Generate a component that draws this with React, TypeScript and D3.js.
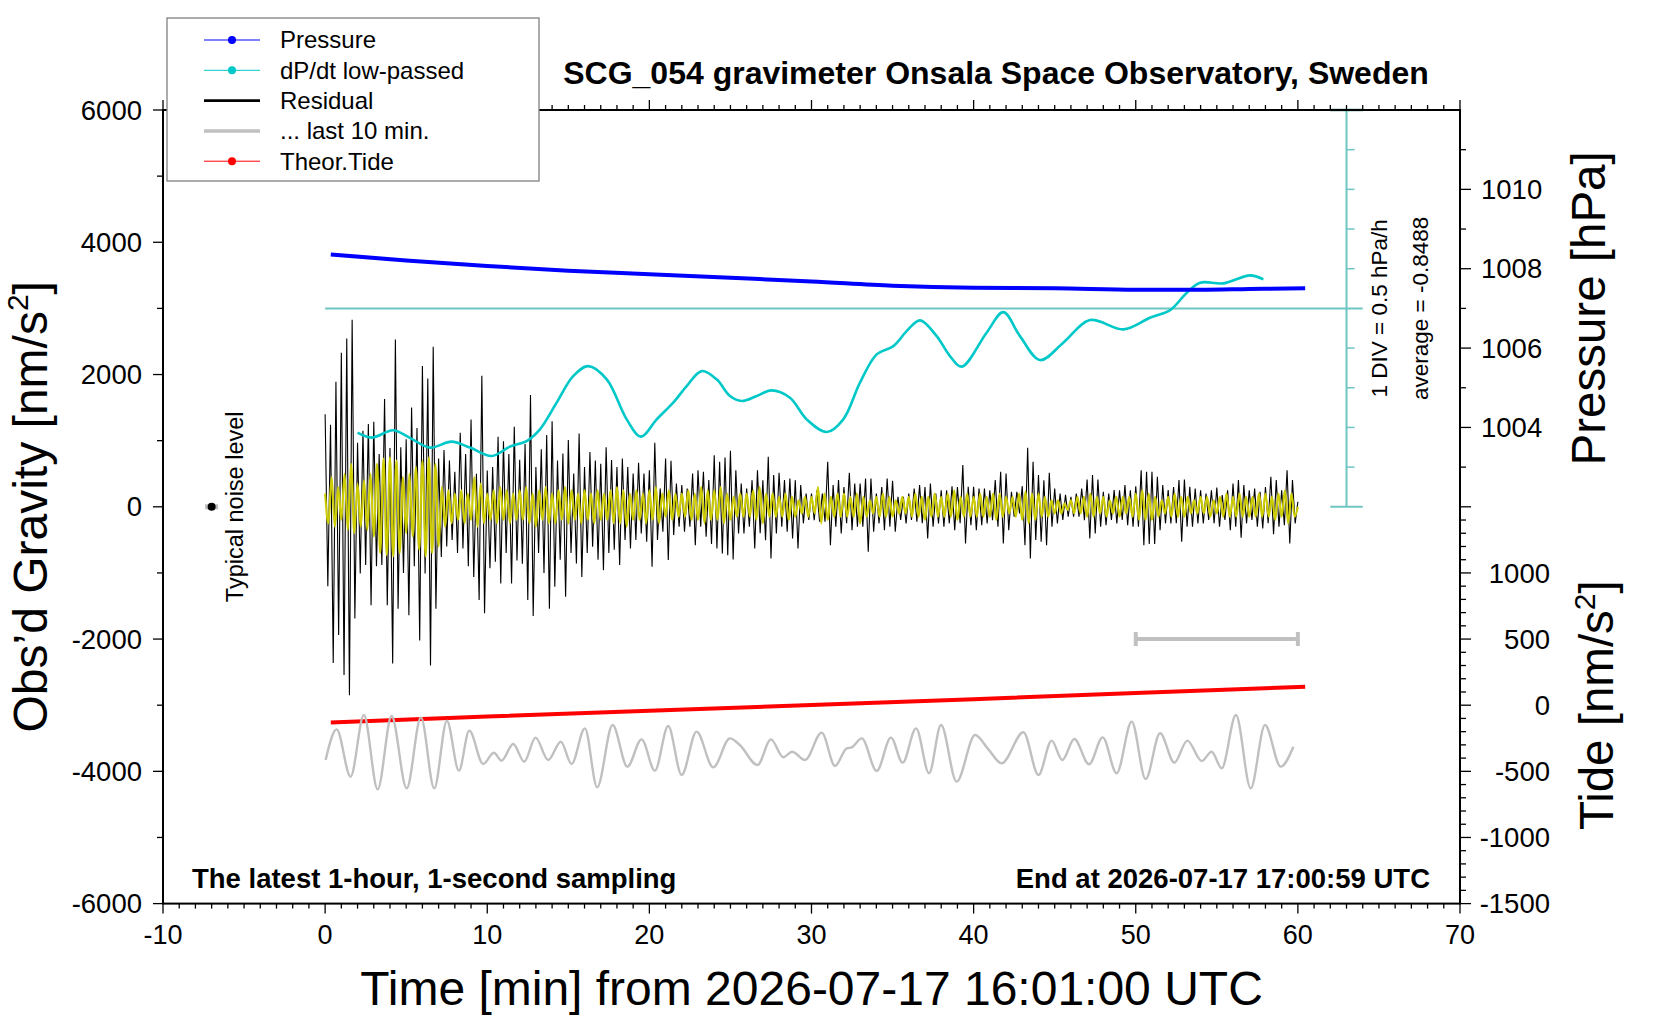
import * as d3 from "d3";

const FONT = "'Liberation Sans', Arial, Helvetica, sans-serif";

// residual gravity [nm/s^2], one value every 10 s (6 per minute) from t = 0 min
const RES_STEP = 1 / 6;
const residual: number[] = [
    1400, -1200, 1240, -2360, 1890, -1940,
    2330, -2545, 2545, -2850, 2830, -1690,
    970, -1010, 1150, -880, 1250, -1490,
    1285, -900, 800, -880, 1630, -1490,
    890, -2370, 2530, -1540, 900, -1000,
    1020, -1640, 1500, -900, 1190, -2020,
    2130, -1010, 1940, -2400, 2420, -1540,
    730, -760, 860, -600, 700, -500,
    530, -700, 1120, -630, 800, -900,
    1320, -1060, 500, -1410, 1980, -1610,
    550, -930, 600, -830, 1060, -1160,
    990, -700, 800, -1160, 1210, -810,
    710, -860, 950, -1410, 1690, -1650,
    600, -700, 870, -1000, 1085, -1540,
    1295, -1210, 700, -800, 806, -1360,
    1010, -700, 504, -857, 1110, -1060,
    600, -700, 830, -605, 700, -800,
    650, -960, 900, -700, 706, -650,
    600, -880, 730, -500, 600, -630,
    504, -500, 665, -403, 504, -529,
    554, -907, 968, -500, 277, -378,
    731, -806, 696, -428, 353, -300,
    328, -378, 277, -300, 504, -580,
    554, -300, 529, -454, 403, -564,
    781, -630, 680, -706, 746, -731,
    847, -796, 554, -403, 353, -403,
    277, -300, 403, -630, 554, -400,
    400, -504, 756, -781, 479, -403,
    514, -300, 403, -378, 428, -479,
    403, -630, 328, -250, 202, -200,
    200, -202, 250, -227, 202, -227,
    680, -580, 328, -300, 403, -403,
    300, -250, 514, -353, 353, -302,
    353, -300, 428, -680, 428, -378,
    202, -250, 300, -353, 428, -300,
    393, -378, 151, -200, 151, -252,
    200, -200, 277, -227, 328, -250,
    300, -479, 353, -302, 202, -250,
    250, -302, 250, -250, 312, -353,
    300, -250, 630, -554, 302, -277,
    302, -353, 277, -277, 277, -250,
    250, -202, 403, -300, 529, -554,
    504, -353, 227, -150, 227, -101,
    312, -580, 892, -781, 680, -500,
    479, -529, 400, -580, 514, -300,
    277, -252, 200, -200, 180, -150,
    151, -151, 200, -150, 277, -202,
    413, -479, 479, -403, 413, -300,
    227, -277, 200, -200, 252, -252,
    250, -200, 328, -277, 250, -302,
    312, -300, 554, -580, 529, -564,
    529, -564, 454, -353, 328, -250,
    252, -252, 300, -250, 403, -529,
    413, -300, 302, -302, 277, -250,
    250, -252, 202, -200, 250, -250,
    292, -302, 176, -200, 250, -353,
    353, -300, 403, -469, 328, -250,
    250, -200, 277, -302, 227, -328,
    300, -250, 454, -413, 403, -300,
    250, -277, 554, -554, 403, -252,
    76,
];

// yellow filtered residual [nm/s^2], one value every 0.2 min
const YEL_STEP = 0.2;
const filtered: number[] = [
    200, -250, 450, -300, 300, -200, 500, -350, 650, -400,
    350, -300, 400, -350, 500, -450, 650, -700, 730, -730,
    750, -750, 700, -700, 450, -400, 500, -450, 600, -650,
    700, -750, 750, -700, 650, -600, 300, -300, 250, -250,
    200, -200, 250, -250, 200, -200, 450, -300, 350, -250,
    200, -200, 250, -250, 300, -200, 250, -250, 200, -200,
    250, -200, 300, -250, 200, -300, 250, -200, 300, -250,
    200, -250, 250, -200, 300, -250, 250, -200, 200, -250,
    250, -200, 200, -250, 250, -200, 200, -200, 250, -250,
    300, -250, 250, -300, 200, -200, 250, -200, 200, -250,
    250, -200, 300, -250, 200, -150, 250, -200, 200, -150,
    200, -150, 250, -200, 200, -200, 300, -250, 250, -200,
    250, -200, 300, -250, 200, -200, 150, -150, 200, -150,
    200, -150, 250, -200, 300, -250, 200, -150, 200, -150,
    150, -150, 200, -200, 150, -150, 100, -100, 150, -150,
    150, -100, 300, -250, 200, -200, 150, -150, 200, -150,
    200, -150, 150, -150, 200, -250, 150, -150, 100, -100,
    150, -150, 200, -150, 150, -150, 100, -100, 150, -100,
    150, -150, 200, -150, 150, -200, 150, -150, 200, -150,
    150, -150, 200, -150, 250, -200, 150, -150, 200, -150,
    150, -150, 200, -150, 150, -150, 200, -200, 200, -150,
    150, -100, 150, -150, 200, -200, 230, -250, 200, -200,
    200, -150, 150, -150, 100, -100, 100, -100, 50, -50,
    100, -100, 150, -100, 150, -150, 200, -150, 150, -100,
    150, -150, 100, -100, 150, -150, 150, -100, 150, -150,
    200, -200, 250, -200, 200, -200, 150, -150, 100, -100,
    150, -150, 200, -150, 150, -150, 150, -100, 100, -100,
    150, -100, 150, -150, 100, -100, 150, -150, 200, -150,
    150, -150, 200, -150, 150, -150, 150, -150, 200, -150,
    200, -150, 150, -200, 200, -150, 250, -250, 200, -150,
    0,
];

// [minute, hPa]
const pressure: [number, number][] = [
    [0.35, 1008.36], [5, 1008.21], [10, 1008.07], [15, 1007.95], [20, 1007.86],
    [25, 1007.77], [30, 1007.68], [35, 1007.57], [40, 1007.52], [45, 1007.51],
    [50, 1007.47], [54, 1007.47], [57, 1007.49], [60.45, 1007.51],
];

// [minute, hPa/h] low-passed dP/dt
const dPdt: [number, number][] = [
    [2.0, -1.565], [2.87, -1.628], [4.2, -1.536], [5.2, -1.628], [6.47, -1.754],
    [7.8, -1.679], [8.93, -1.754], [10.27, -1.86], [11.4, -1.742], [12.43, -1.671],
    [13.25, -1.524], [14.28, -1.188], [15.3, -0.853], [16.23, -0.727], [17.37, -0.894],
    [18.6, -1.398], [19.48, -1.616], [20.45, -1.398], [21.47, -1.188], [22.3, -0.979],
    [23.23, -0.79], [24.15, -0.894], [24.97, -1.104], [25.69, -1.167], [26.62, -1.104],
    [27.54, -1.033], [28.67, -1.125], [29.7, -1.398], [30.94, -1.558], [31.96, -1.398],
    [32.99, -0.936], [34.02, -0.579], [35.05, -0.475], [35.87, -0.286], [36.69, -0.151],
    [37.72, -0.349], [38.54, -0.601], [39.26, -0.734], [40.8, -0.306], [41.83, -0.047],
    [42.86, -0.349], [44.1, -0.651], [45.53, -0.432], [47.18, -0.147], [49.24, -0.264],
    [50.88, -0.117], [52.12, -0.021], [53.15, 0.198], [53.97, 0.324], [55.41, 0.315],
    [57.05, 0.416], [57.87, 0.365],
];

// [minute, nm/s^2] theoretical tide
const tide: [number, number][] = [
    [0.35, -130], [10, -86], [20, -42], [30, 2], [40, 45], [50, 92], [60.45, 140],
];

// [minute, nm/s^2] last 10 min stretched over the hour (offset trace)
const last10: [number, number][] = [
    [0.03, -3829], [0.71, -3365], [1.57, -4081], [2.39, -3148], [3.24, -4272],
    [4.1, -3163], [5.03, -4257], [5.91, -3184], [6.73, -4257], [7.51, -3234],
    [8.25, -3990], [8.89, -3385], [9.75, -3889], [10.41, -3718], [10.88, -3839],
    [11.6, -3587], [12.28, -3854], [12.98, -3491], [13.76, -3829], [14.54, -3552],
    [15.2, -3889], [16.02, -3350], [16.78, -4242], [17.73, -3300], [18.64, -3929],
    [19.52, -3516], [20.34, -3990], [21.16, -3315], [21.99, -4055], [22.91, -3400],
    [23.94, -3940], [24.97, -3501], [25.58, -3602], [26.67, -3904], [27.5, -3516],
    [28.26, -3788], [28.81, -3703], [29.6, -3829], [30.63, -3415], [31.45, -3919],
    [32.17, -3652], [32.48, -3637], [33.1, -3501], [34.02, -3995], [34.9, -3491],
    [35.62, -3869], [36.45, -3350], [37.25, -4030], [37.99, -3300], [38.95, -4156],
    [40.09, -3451], [40.91, -3667], [41.73, -3879], [43.07, -3410], [44.0, -4055],
    [44.81, -3536], [45.47, -3829], [46.21, -3511], [47.12, -3894], [47.96, -3486],
    [48.82, -4030], [49.75, -3249], [50.61, -4116], [51.5, -3425], [52.38, -3869],
    [53.18, -3536], [54.07, -3844], [54.68, -3703], [55.3, -3955], [56.18, -3148],
    [57.09, -4257], [57.97, -3300], [58.94, -3929], [59.72, -3627],
];

const xMajor = d3.range(-10, 71, 10);
const xMinor = d3.range(-10, 71, 1);
const gravityMajor = d3.range(-6000, 6001, 2000);
const gravityMinor = d3.range(-5000, 6000, 2000);
const pressureTicks = d3.range(1003, 1012);
const pressureLabels = [1004, 1006, 1008, 1010];
const tideTicks = d3.range(-1500, 1501, 100);
const tideLabels = [-1500, -1000, -500, 0, 500, 1000];
const dpdtTicks = [-2, -1.5, -1, -0.5, 0.5, 1, 1.5, 2];

const legendItems = [
    { name: "Pressure", color: "#0000ff", width: 1, dot: true },
    { name: "dP/dt low-passed", color: "#00c8c8", width: 1, dot: true },
    { name: "Residual", color: "#000000", width: 2.6, dot: false },
    { name: "... last 10 min.", color: "#c0c0c0", width: 3.5, dot: false },
    { name: "Theor.Tide", color: "#ff0000", width: 1, dot: true },
];

export default function App() {
    const width = 1660, height = 1020;

    const x = d3.scaleLinear().domain([-10, 70]).range([163, 1460]);
    const gy = d3.scaleLinear().domain([-6000, 6000]).range([903.6, 110]);
    const py = d3.scaleLinear().domain([1002, 1012]).range([gy(0), gy(6000)]);
    const ty = d3.scaleLinear().domain([-1500, 1500]).range([gy(-6000), gy(0)]);
    const dy = d3.scaleLinear().domain([-2.5, 2.5]).range([gy(0), gy(6000)]);

    const [x0, x1] = x.range();
    const [yb, yt] = gy.range();

    const resLine = d3.line<number>().x((_, i) => x(i * RES_STEP)).y(d => gy(d));
    const filtLine = d3.line<number>().x((_, i) => x(i * YEL_STEP)).y(d => gy(d)).curve(d3.curveMonotoneX);
    const pLine = d3.line<[number, number]>().x(d => x(d[0])).y(d => py(d[1])).curve(d3.curveMonotoneX);
    const dLine = d3.line<[number, number]>().x(d => x(d[0])).y(d => dy(d[1])).curve(d3.curveCatmullRom.alpha(0.5));
    const tLine = d3.line<[number, number]>().x(d => x(d[0])).y(d => ty(d[1]));
    const gLine = d3.line<[number, number]>().x(d => x(d[0])).y(d => gy(d[1])).curve(d3.curveMonotoneX);

    const cyanLight = "#6ec6c2";
    const barX = x(63);

    return (
        <svg width={width} height={height} style={{ position: "absolute", left: 0, top: 0, background: "#fff" }}
            fontFamily={FONT}>
            {/* dP/dt zero line and division bar */}
            <line x1={x(0)} x2={x(64)} y1={dy(0)} y2={dy(0)} stroke={cyanLight} strokeWidth={2} />
            <line x1={barX} x2={barX} y1={dy(-2.5)} y2={dy(2.5)} stroke={cyanLight} strokeWidth={2} />
            <line x1={x(62)} x2={x(64)} y1={dy(2.5)} y2={dy(2.5)} stroke="#3a8f8b" strokeWidth={2.5} />
            <line x1={x(62)} x2={x(64)} y1={dy(-2.5)} y2={dy(-2.5)} stroke={cyanLight} strokeWidth={2} />
            {dpdtTicks.map(v => (
                <line key={v} x1={barX} x2={barX + 8} y1={dy(v)} y2={dy(v)} stroke={cyanLight} strokeWidth={1.5} />
            ))}

            {/* residual + filtered */}
            <path d={resLine(residual) ?? ""} fill="none" stroke="#000" strokeWidth={1.1} />
            <path d={filtLine(filtered) ?? ""} fill="none" stroke="#cccc00" strokeWidth={2.1} />

            {/* tide and last 10 minutes */}
            <path d={tLine(tide) ?? ""} fill="none" stroke="#ff0000" strokeWidth={4} />
            <path d={gLine(last10) ?? ""} fill="none" stroke="#c0c0c0" strokeWidth={2.4} />
            <g stroke="#c0c0c0" strokeWidth={4}>
                <line x1={x(50)} x2={x(60)} y1={gy(-2000)} y2={gy(-2000)} />
                <line x1={x(50)} x2={x(50)} y1={gy(-2000) - 7} y2={gy(-2000) + 7} />
                <line x1={x(60)} x2={x(60)} y1={gy(-2000) - 7} y2={gy(-2000) + 7} />
            </g>

            {/* dP/dt and pressure */}
            <path d={dLine(dPdt) ?? ""} fill="none" stroke="#00c8c8" strokeWidth={2.6} />
            <path d={pLine(pressure) ?? ""} fill="none" stroke="#0000ff" strokeWidth={4} />

            {/* typical noise level */}
            <line x1={x(-7.4)} x2={x(-6.6)} y1={gy(0)} y2={gy(0)} stroke="#bbbbbb" strokeWidth={5} />
            <circle cx={x(-7)} cy={gy(0)} r={4} fill="#000" />
            <text transform={`translate(243,${gy(0)}) rotate(-90)`} textAnchor="middle" fontSize={23.5}>Typical noise level</text>

            {/* frame */}
            <rect x={x0} y={yt} width={x1 - x0} height={yb - yt} fill="none" stroke="#000" strokeWidth={2} />

            {/* x axes */}
            {xMinor.map(t => (
                <g key={t} stroke="#000" strokeWidth={1.3}>
                    <line x1={x(t)} x2={x(t)} y1={yb} y2={yb + (t % 10 === 0 ? 10 : 5)} />
                    <line x1={x(t)} x2={x(t)} y1={yt} y2={yt - (t % 10 === 0 ? 10 : 5)} />
                </g>
            ))}
            {xMajor.map(t => (
                <text key={t} x={x(t)} y={944} textAnchor="middle" fontSize={27}>{t}</text>
            ))}

            {/* gravity axis */}
            {gravityMajor.map(v => (
                <g key={v}>
                    <line x1={x0 - 10} x2={x0} y1={gy(v)} y2={gy(v)} stroke="#000" strokeWidth={1.3} />
                    <text x={x0 - 21} y={gy(v)} dy="0.35em" textAnchor="end" fontSize={27.5}>{v}</text>
                </g>
            ))}
            {gravityMinor.map(v => (
                <line key={v} x1={x0 - 6} x2={x0} y1={gy(v)} y2={gy(v)} stroke="#000" strokeWidth={1.3} />
            ))}

            {/* pressure axis */}
            {pressureTicks.map(p => (
                <line key={p} x1={x1} x2={x1 + (p % 2 === 0 ? 11 : 6)} y1={py(p)} y2={py(p)} stroke="#000" strokeWidth={1.3} />
            ))}
            {pressureLabels.map(p => (
                <text key={p} x={1481} y={py(p)} dy="0.35em" fontSize={27.5}>{p}</text>
            ))}

            {/* tide axis */}
            {tideTicks.map(v => (
                <line key={v} x1={x1} x2={x1 + (v % 500 === 0 ? 11 : 6)} y1={ty(v)} y2={ty(v)} stroke="#000" strokeWidth={1.3} />
            ))}
            {tideLabels.map(v => (
                <text key={v} x={1550} y={ty(v)} dy="0.35em" textAnchor="end" fontSize={27.5}>{v}</text>
            ))}

            {/* axis titles */}
            <text x={(x0 + x1) / 2} y={1005} textAnchor="middle" fontSize={48}>Time [min] from 2026-07-17 16:01:00 UTC</text>
            <text transform={`translate(47,${gy(0)}) rotate(-90)`} textAnchor="middle" fontSize={48}>
                Obs’d Gravity [nm/s<tspan dy={-19} fontSize={30}>2</tspan><tspan dy={19}>]</tspan>
            </text>
            <text transform={`translate(1605,${py(1007)}) rotate(-90)`} textAnchor="middle" fontSize={47.5}>Pressure [hPa]</text>
            <text transform={`translate(1613,${ty(0)}) rotate(-90)`} textAnchor="middle" fontSize={47.5}>
                Tide [nm/s<tspan dy={-18} fontSize={30}>2</tspan><tspan dy={18}>]</tspan>
            </text>

            {/* dP/dt notes */}
            <text transform={`translate(1387,${dy(0)}) rotate(-90)`} textAnchor="middle" fontSize={22.5}>1 DIV = 0.5 hPa/h</text>
            <text transform={`translate(1428,${dy(0)}) rotate(-90)`} textAnchor="middle" fontSize={22.5}>average = -0.8488</text>

            {/* titles */}
            <text x={996} y={84} textAnchor="middle" fontSize={32} fontWeight="bold">SCG_054 gravimeter Onsala Space Observatory, Sweden</text>
            <text x={192} y={888} fontSize={27.5} fontWeight="bold">The latest 1-hour, 1-second sampling</text>
            <text x={1430} y={888} textAnchor="end" fontSize={27.5} fontWeight="bold">End at 2026-07-17 17:00:59 UTC</text>

            {/* legend */}
            <rect x={167} y={18} width={372} height={163} fill="#fff" stroke="#808080" strokeWidth={1.3} />
            {legendItems.map((d, i) => {
                const ly = 40 + i * 30.3;
                return (
                    <g key={d.name}>
                        <line x1={204} x2={260} y1={ly} y2={ly} stroke={d.color} strokeWidth={d.width} />
                        {d.dot && <circle cx={232} cy={ly} r={4} fill={d.color} />}
                        <text x={280} y={ly} dy="0.35em" fontSize={24}>{d.name}</text>
                    </g>
                );
            })}
        </svg>
    );
}
